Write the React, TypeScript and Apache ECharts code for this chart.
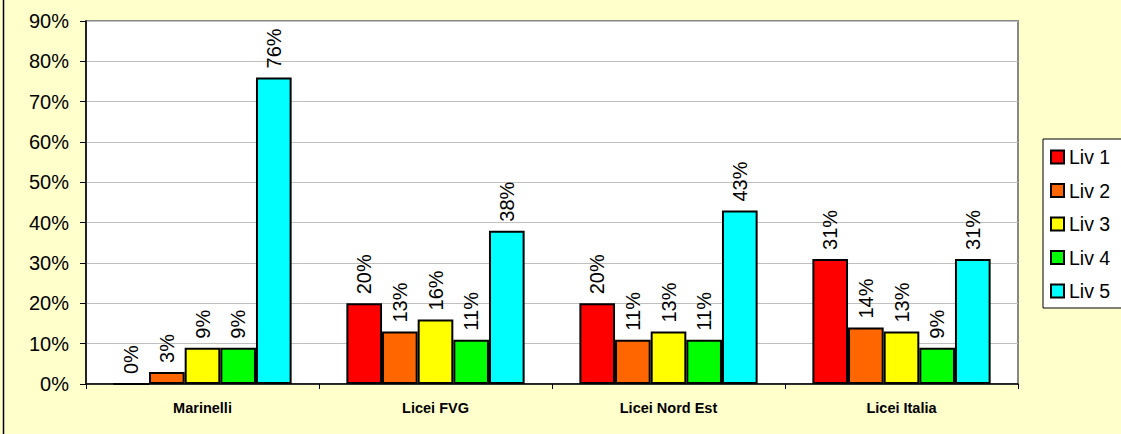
import React, { useEffect, useRef } from "react";
import * as echarts from "echarts";

const categories = ["Marinelli", "Licei FVG", "Licei Nord Est", "Licei Italia"];
const seriesNames = ["Liv 1", "Liv 2", "Liv 3", "Liv 4", "Liv 5"];
const liv1 = [0, 20, 20, 31];
const liv2 = [3, 13, 11, 14];
const liv3 = [9, 16, 13, 13];
const liv4 = [9, 11, 11, 9];
const liv5 = [76, 38, 43, 31];
const colors = ["#FF0000", "#FF6600", "#FFFF00", "#00FF00", "#00FFFF"];

export default function App() {
  const ref = useRef<HTMLDivElement>(null);
  useEffect(() => {
    document.body.style.margin = "0";
    const chart = echarts.init(ref.current!, null, { renderer: "svg" });
    const datas = [liv1, liv2, liv3, liv4, liv5];
    const font = "Liberation Sans, Arial, sans-serif";
    chart.setOption({
      animation: false,
      backgroundColor: "#FFFFCC",
      textStyle: { fontFamily: font },
      grid: {
        left: 86,
        right: 103,
        top: 21,
        bottom: 50,
        show: true,
        backgroundColor: "#FFFFFF",
        borderColor: "#888888",
        borderWidth: 2,
      },
      graphic: [
        {
          type: "line",
          shape: { x1: 3.5, y1: 0, x2: 3.5, y2: 434 },
          style: { stroke: "#000", lineWidth: 1.5 },
        },
      ],
      legend: {
        orient: "vertical",
        left: 1043,
        top: 139,
        backgroundColor: "#FFFFFF",
        borderColor: "#000",
        borderWidth: 1,
        padding: [8, 40, 7, 7],
        itemWidth: 13,
        itemHeight: 13,
        itemGap: 13.5,
        icon: "rect",
        textStyle: { fontSize: 19.5, color: "#000", fontFamily: font, lineHeight: 20 },
        data: seriesNames,
      },
      xAxis: {
        type: "category",
        data: categories,
        axisLine: { lineStyle: { color: "#000", width: 1.5 } },
        axisTick: { show: true, length: 5, lineStyle: { color: "#000" } },
        axisLabel: { fontSize: 14.5, fontWeight: "bold", color: "#000", margin: 16, fontFamily: font },
      },
      yAxis: {
        type: "value",
        min: 0,
        max: 90,
        interval: 10,
        axisLine: { show: true, lineStyle: { color: "#000", width: 1.5 } },
        axisTick: { show: true, length: 6, lineStyle: { color: "#000" } },
        axisLabel: { formatter: "{value}%", fontSize: 20, color: "#000", margin: 17, fontFamily: font },
        splitLine: { lineStyle: { color: "#C0C0C0", width: 1 } },
      },
      series: seriesNames.map((name, i) => ({
        name,
        type: "bar",
        data: datas[i],
        barGap: "0%",
        barCategoryGap: "23.5%",
        itemStyle: { color: colors[i], borderColor: "#000", borderWidth: 2 },
        label: {
          show: true,
          position: "top",
          rotate: 90,
          align: "left",
          verticalAlign: "middle",
          distance: 9,
          formatter: "{c}%",
          fontSize: 20,
          color: "#000",
          fontFamily: font,
        },
      })),
    });
    return () => chart.dispose();
  }, []);
  return <div ref={ref} style={{ position: "fixed", left: 0, top: 0, width: 1121, height: 434 }} />;
}
